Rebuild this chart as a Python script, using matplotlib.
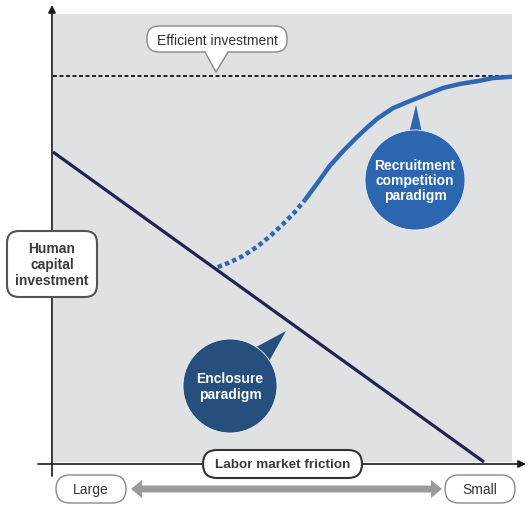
import numpy as np
import matplotlib
matplotlib.use("Agg")
import matplotlib.pyplot as plt
from matplotlib.patches import FancyBboxPatch, Circle, Polygon

plt.rcParams['font.family'] = ['Liberation Sans', 'DejaVu Sans']

# ---------------------------------------------------------------- data (0-100 scale)
enclosure_x = [0.0, 93.9]
enclosure_y = [69.2, 0.0]

recruit_dot_x = [35.9, 38.6, 41.4, 44.4, 47.3, 50.1, 52.7, 54.9]
recruit_dot_y = [43.5, 44.6, 46.0, 48.0, 50.4, 53.1, 55.8, 58.5]

recruit_x = [54.9, 57.5, 60.3, 63.2, 66.2, 68.6, 70.6, 74.1, 77.8, 81.5,
             85.0, 88.7, 92.4, 95.9, 100.0]
recruit_y = [58.5, 62.1, 66.1, 69.4, 72.5, 74.8, 76.6, 79.0, 80.6, 82.1,
             83.5, 84.4, 85.0, 85.7, 86.0]

efficient_level = 86.2

y_label = "Human\ncapital\ninvestment"
x_label = "Labor market friction"
x_left, x_right = "Large", "Small"

W, H = 532, 506
fig = plt.figure(figsize=(W / 100, H / 100), dpi=100)

# main plotting area (gray panel)
ax = fig.add_axes([53 / W, (H - 463) / H, 459 / W, 448 / H])
ax.set_facecolor('#e0e1e3')
ax.set_xlim(0, 100)
ax.set_ylim(0, 100)
for s in ax.spines.values():
    s.set_visible(False)
ax.set_xticks([])
ax.set_yticks([])

ax.axhline(efficient_level, color='#111111', lw=1.3, ls=(0, (2.2, 1.4)))
ax.plot(enclosure_x, enclosure_y, color='#1e2552', lw=2.3, solid_capstyle='butt', clip_on=False)
ax.plot(recruit_dot_x, recruit_dot_y, color='#2e67b2', lw=3.2, ls=(0, (1.0, 0.75)))
ax.plot(recruit_x, recruit_y, color='#2e67b2', lw=3.2, solid_capstyle='butt',
        solid_joinstyle='round')

# overlay in pixel coordinates for the decorations
ov = fig.add_axes([0, 0, 1, 1], facecolor='none')
ov.set_xlim(0, W)
ov.set_ylim(H, 0)
ov.axis('off')

# axes arrows
ov.annotate('', xy=(52, 6), xytext=(52, 477),
            arrowprops=dict(arrowstyle='-|>', color='#1a1a1a', lw=1.2, mutation_scale=11, shrinkA=0, shrinkB=0))
ov.annotate('', xy=(526, 465), xytext=(38, 465),
            arrowprops=dict(arrowstyle='-|>', color='#1a1a1a', lw=1.2, mutation_scale=11, shrinkA=0, shrinkB=0))


def pill(x0, y0, x1, y1, r, ec, lw):
    p = FancyBboxPatch((x0, y0), x1 - x0, y1 - y0,
                       boxstyle=f"round,pad=0,rounding_size={r}",
                       fc='white', ec=ec, lw=lw, zorder=5)
    ov.add_patch(p)


# efficient investment callout
pill(147, 27, 287, 53, 12, '#8a8a8a', 1.0)
ov.add_patch(Polygon([(205, 52), (228, 52), (216, 73)], closed=True, fc='white', ec='none', zorder=6))
ov.plot([205, 216, 228], [53, 73, 53], color='#8a8a8a', lw=1.0, zorder=6)
ov.text(217, 41, "Efficient investment", ha='center', va='center', fontsize=10, color='#333333', zorder=7)

# y label box
pill(7, 232, 97, 298, 12, '#555555', 1.5)
ov.text(52, 265, y_label, ha='center', va='center', fontsize=10, fontweight='bold',
        color='#3a3a3a', linespacing=1.15, zorder=7)

# x label box
pill(203, 451, 362, 479, 14, '#333333', 1.5)
ov.text(282.5, 465.5, x_label, ha='center', va='center', fontsize=9.7, fontweight='bold',
        color='#3a3a3a', zorder=7)

# large / small boxes
pill(56, 476, 126, 504, 14, '#8a8a8a', 1.0)
ov.text(91, 490.5, x_left, ha='center', va='center', fontsize=10, color='#333333', zorder=7)
pill(445, 476, 515, 504, 14, '#8a8a8a', 1.0)
ov.text(480, 490.5, x_right, ha='center', va='center', fontsize=10, color='#333333', zorder=7)

# gray double arrow
ay, sh, hh, hl = 490, 3.5, 9, 11
ov.add_patch(Polygon([(131, ay), (131 + hl, ay - hh), (131 + hl, ay - sh), (442 - hl, ay - sh),
                      (442 - hl, ay - hh), (442, ay), (442 - hl, ay + hh), (442 - hl, ay + sh),
                      (131 + hl, ay + sh), (131 + hl, ay + hh)],
                     closed=True, fc='#9b9b9b', ec='none', zorder=4))


def bubble(cx, cy, r, tip, color, text, spread=9):
    ang = np.arctan2(tip[1] - cy, tip[0] - cx)
    da = np.radians(spread)
    b1 = (cx + 0.9 * r * np.cos(ang - da), cy + 0.9 * r * np.sin(ang - da))
    b2 = (cx + 0.9 * r * np.cos(ang + da), cy + 0.9 * r * np.sin(ang + da))
    ov.add_patch(Polygon([b1, tip, b2], closed=True, fc=color, ec='none', zorder=5))
    ov.add_patch(Circle((cx, cy), r, fc=color, ec='#f0f0f0', lw=0.6, zorder=5))
    ov.text(cx, cy, text, ha='center', va='center', fontsize=10, fontweight='bold',
            color='white', linespacing=1.1, zorder=7)


bubble(415, 181, 50, (416, 106), '#2d66b0', "Recruitment\ncompetition\nparadigm", spread=9)
bubble(230, 387, 47, (286, 332), '#264f7e', "Enclosure\nparadigm", spread=15)

fig.savefig('out.png', dpi=100)
